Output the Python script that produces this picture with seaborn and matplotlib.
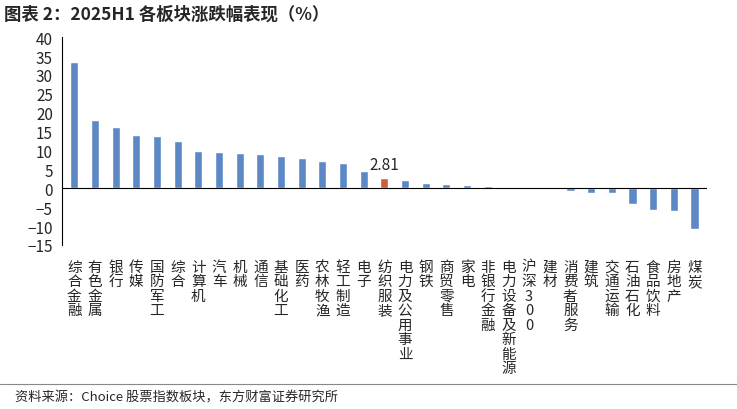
import matplotlib
matplotlib.use("Agg")
import matplotlib.pyplot as plt
import seaborn as sns
import pandas as pd

sectors = ["综合金融", "有色金属", "银行", "传媒", "国防军工", "综合", "计算机", "汽车", "机械",
           "通信", "基础化工", "医药", "农林牧渔", "轻工制造", "电子", "纺织服装", "电力及公用事业",
           "钢铁", "商贸零售", "家电", "非银行金融", "电力设备及新能源", "沪深300", "建材",
           "消费者服务", "建筑", "交通运输", "石油石化", "食品饮料", "房地产", "煤炭"]
returns = [33.5, 18.2, 16.1, 14.0, 13.8, 12.4, 9.8, 9.5, 9.3, 9.2, 8.5, 8.0, 7.3, 6.8, 4.5,
           2.81, 2.2, 1.5, 1.1, 0.8, 0.6, 0.3, 0.05, -0.1, -0.8, -1.2, -1.3, -4.2, -5.7, -5.9, -10.8]
highlight = "纺织服装"

sns.set_style("white")
plt.rcParams["font.family"] = ["Noto Sans CJK SC", "DejaVu Sans"]

df = pd.DataFrame({"sector": sectors, "ret": returns})
colors = ["#E8501E" if s == highlight else "#4A86D8" for s in sectors]

fig = plt.figure(figsize=(7.37, 4.10), dpi=100)
ax = fig.add_axes([0.084, 0.40, 0.875, 0.507])
sns.barplot(data=df, x="sector", y="ret", hue="sector", palette=colors, legend=False,
            width=0.4, ax=ax)
ax.set_ylim(-15, 40)
ax.set_yticks(range(-15, 41, 5))
ax.set_xlim(-0.6, len(sectors) - 0.4)
ax.axhline(0, color="black", lw=0.8)
ax.set_xlabel("")
ax.set_ylabel("")
ax.set_xticks([])
ax.tick_params(axis="y", labelsize=11, length=3, direction="out")
for side in ["top", "right", "bottom"]:
    ax.spines[side].set_visible(False)
ax.spines["left"].set_color("black")

# vertical category labels
trans = ax.get_xaxis_transform()
for k, s in enumerate(sectors):
    ax.text(k, -0.07, "\n".join(s), transform=trans, ha="center", va="top",
            fontsize=10.5, linespacing=1.05)

i = sectors.index(highlight)
ax.text(i, returns[i] + 1.3, f"{returns[i]:.2f}", ha="center", va="bottom", fontsize=11)

fig.text(0.005, 0.965, "图表 2：2025H1 各板块涨跌幅表现（%）", fontsize=12.5, fontweight="bold",
         va="center")
fig.add_artist(plt.Line2D([0, 1], [0.06, 0.06], color="#888888", lw=0.8))
fig.text(0.02, 0.03, "资料来源：Choice 股票指数板块，东方财富证券研究所", fontsize=9.5, va="center")

fig.savefig("out.png", dpi=100)
